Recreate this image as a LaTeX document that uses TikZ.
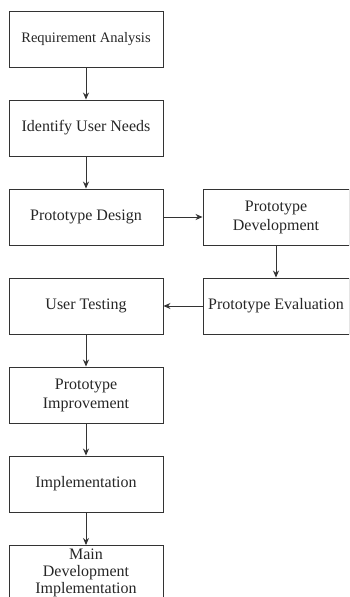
\documentclass[tikz,border=0pt]{standalone}
\usepackage{fontspec}
\setmainfont{Liberation Serif}
\usetikzlibrary{arrows.meta}
\begin{document}
\begin{tikzpicture}[x=1pt,y=-1pt,
  stage/.style={draw=black!80, line width=0.9pt, minimum width=154pt, minimum height=56pt,
    align=center, inner sep=1pt, font=\fontsize{16}{19}\selectfont, text=black!85},
  flow/.style={draw=black!80, line width=0.9pt, -{Stealth[length=7pt,width=6pt]}}]
  \useasboundingbox (0,0) rectangle (349,597);
  \clip (0,0) rectangle (349,597);
  % left column
  \node[stage, font=\fontsize{14.5}{17}\selectfont] (req) at (86,39.5) {Requirement Analysis};
  \node[stage] (needs) at (86,128) {Identify User Needs};
  \node[stage] (design) at (86,217) {Prototype Design};
  \node[stage] (test) at (86,306) {User Testing};
  \node[stage] (improve) at (86,395) {Prototype\\Improvement};
  \node[stage] (impl) at (86,484) {Implementation};
  \node[stage, minimum height=70pt, anchor=north] (main) at (86,545) {};
  \node[font=\fontsize{16}{17}\selectfont, text=black!85, align=center, anchor=north, inner sep=0pt] (maintext) at (86,548.5) {Main\\Development\\Implementation};
  % right column
  \node[stage, minimum width=146pt] (dev) at (276,217) {Prototype\\Development};
  \node[stage, minimum width=146pt] (eval) at (276,306) {Prototype Evaluation};
  % connectors
  \draw[flow] (req) -- (needs);
  \draw[flow] (needs) -- (design);
  \draw[flow] (design) -- (dev);
  \draw[flow] (dev) -- (eval);
  \draw[flow] (eval) -- (test);
  \draw[flow] (test) -- (improve);
  \draw[flow] (improve) -- (impl);
  \draw[flow] (impl) -- (main);
\end{tikzpicture}
\end{document}
